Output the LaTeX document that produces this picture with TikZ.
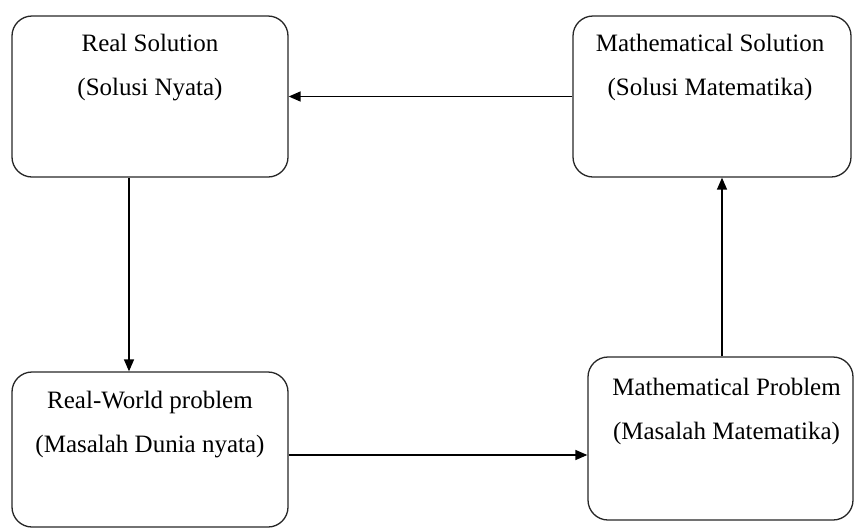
\documentclass[tikz,border=0pt]{standalone}
\usepackage{fontspec}
\setmainfont{Liberation Serif}
\usepackage{tikz}
\usetikzlibrary{arrows.meta, positioning}
\tikzstyle{box} = [rectangle, rounded corners = 20pt, draw = black!85,
  line width = 1.3pt, inner sep = 0]
\tikzstyle{boxtext} = [align = center, inner sep = 0, anchor = north,
  font = \fontsize{25}{44}\selectfont]
\tikzstyle{flow} = [-{Triangle[length = 12pt, width = 10pt]}, line width = 1.4pt]

\begin{document}
\begin{tikzpicture}[x = 1pt, y = -1pt, node distance = 0]
      \useasboundingbox (0, 0) rectangle (856, 528);
      % top row
      \node [box, minimum width = 276pt, minimum height = 161pt] (real-sol) at (150, 96.5) {};
      \node [boxtext, below = 19pt of real-sol.north] (real-sol-txt)
        {Real Solution\\(Solusi Nyata)};
      \node [box, minimum width = 278pt, minimum height = 161pt] (math-sol) at (712, 96.5) {};
      \node [boxtext, below = 19pt of math-sol.north, xshift = -2pt] (math-sol-txt)
        {Mathematical Solution\\(Solusi Matematika)};
      % bottom row
      \node [box, minimum width = 276pt, minimum height = 155pt] (real-prob) at (150, 449.5) {};
      \node [boxtext, below = 20pt of real-prob.north] (real-prob-txt)
        {Real-World problem\\(Masalah Dunia nyata)};
      \node [box, minimum width = 265pt, minimum height = 163pt] (math-prob) at (720.5, 438.5) {};
      \node [boxtext, below = 22pt of math-prob.north, xshift = 6pt] (math-prob-txt)
        {Mathematical Problem\\(Masalah Matematika)};

      \draw [flow] (math-sol.west) -- (real-sol.east);
      \draw [flow] ([xshift = -21pt]real-sol.south) -- ([xshift = -21pt]real-prob.north);
      \draw [flow] ([yshift = -5.5pt]real-prob.east) --
        ([yshift = -5.5pt]real-prob.east -| math-prob.west);
      \draw [flow] ([xshift = 1.5pt]math-prob.north) --
        ([xshift = 1.5pt]math-prob.north |- math-sol.south);
\end{tikzpicture}
\end{document}
